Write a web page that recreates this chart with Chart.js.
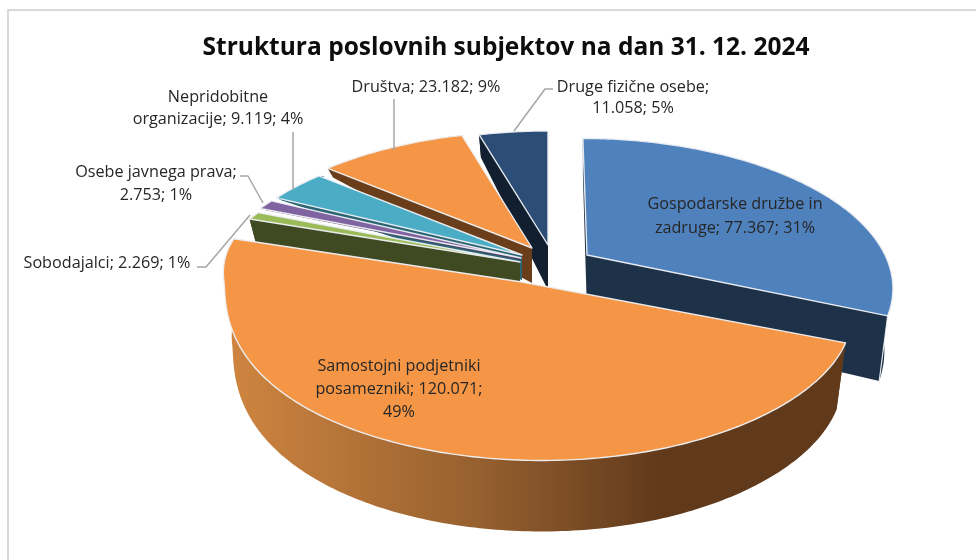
<!DOCTYPE html>
<html><head><meta charset="utf-8">
<style>html,body{margin:0;padding:0;background:#fff}canvas{display:block}</style>
<script src="https://cdn.jsdelivr.net/npm/chart.js@4"></script></head>
<body><canvas id="c" width="976" height="560"></canvas>
<script>
const categories=["Gospodarske družbe in zadruge","Samostojni podjetniki posamezniki","Sobodajalci","Osebe javnega prava","Nepridobitne organizacije","Društva","Druge fizične osebe"];
const values=[77367,120071,2269,2753,9119,23182,11058];
const faceColors=["#4F81BD","#F49646","#9BBB59","#8064A2","#4BACC6","#F49646","#2C4D75"];
const wallColors=["#1D3249","#6A3E1B","#3F4A22","#4C3C61","#2B6574","#6A3E1B","#111F30"];
// painter's order: back to front
const drawOrder=[6,5,4,3,2,0,1];
// per-slice projection: apex on the page, radii, shear, wall height at apex and its slope
const apex=[[587,255],[522,282],[520,262],[521,258],[522,255],[532,248],[548,245]];
const radX=[298,305,306,305,300,302,297];
const radY=[141,141,140,140,140,141,138];
const shear=[5,20,0,0,0,0,0];
const wallH=[[58,18],[64,7],[35,20],[2,0],[25,49],[35,40],[45,23]];
const persp=0.21, wallShrink=0.972;
const FONT='"Open Sans","Noto Sans",sans-serif';
const labelBlocks=[
 {x:735,lines:[["Gospodarske družbe in",204],["zadruge; 77.367; 31%",228]]},
 {x:399,lines:[["Samostojni podjetniki",366],["posamezniki; 120.071;",389],["49%",412]]},
 {x:107,lines:[["Sobodajalci; 2.269; 1%",263]]},
 {x:156,lines:[["Osebe javnega prava;",172],["2.753; 1%",195]]},
 {x:218,lines:[["Nepridobitne",97],["organizacije; 9.119; 4%",119]]},
 {x:426,lines:[["Društva; 23.182; 9%",87]]},
 {x:633,lines:[["Druge fizične osebe;",87],["11.058; 5%",108]]}
];
const leaders=[
 [[197,267],[206,267],[250,215]],
 [[240,176],[248,176],[263,203]],
 [[293,132],[293,190]],
 [[394,99],[394,150]],
 [[553,89],[545,89],[514,131]]
];
function project(i,theta){
  const u=Math.sin(theta),v=-Math.cos(theta),d=1-persp*v;
  if(i===1){ // the large front slice is stretched unevenly by the perspective
    const r=u>0?320+60*v:298+80*Math.pow(Math.max(v,0),1.5);
    return {dx:r*u+shear[i]*v,dy:radY[i]*v/d,v};
  }
  return {dx:(radX[i]*u+shear[i]*v)/d,dy:radY[i]*v/d,v};
}
function topPt(i,theta){const p=project(i,theta);return [apex[i][0]+p.dx,apex[i][1]+p.dy];}
function botPt(i,theta){const p=project(i,theta);const h=Math.max(0,wallH[i][0]+wallH[i][1]*p.v);
  return [apex[i][0]+p.dx*wallShrink,apex[i][1]+p.dy+h];}
function arcPts(i,a,b,fn){const n=Math.max(4,Math.ceil((b-a)/0.015)),o=[];
  for(let k=0;k<=n;k++)o.push(fn(i,a+(b-a)*k/n));return o;}
function poly(ctx,pts){ctx.beginPath();pts.forEach((p,j)=>j?ctx.lineTo(p[0],p[1]):ctx.moveTo(p[0],p[1]));ctx.closePath();}
const pie3d={id:'pie3d',
 beforeDraw(chart){const c=chart.ctx;c.save();c.fillStyle='#fff';c.fillRect(0,0,976,560);
   c.strokeStyle='#D9D9D9';c.lineWidth=2;c.strokeRect(8,10,1000,1000);c.restore();},
 beforeDatasetsDraw(chart){
  const ctx=chart.ctx,els=chart.getDatasetMeta(0).data;
  ctx.save();
  drawOrder.forEach(i=>{
    const e=els[i].getProps(['startAngle','endAngle']);
    const a=e.startAngle+Math.PI/2,b=e.endAngle+Math.PI/2;
    let wall=wallColors[i];
    if(i===1){const g=ctx.createLinearGradient(228,0,660,0);
      g.addColorStop(0,'#CF8540');g.addColorStop(0.58,'#96602F');g.addColorStop(1,'#613A1C');wall=g;}
    ctx.fillStyle=wall;ctx.strokeStyle=wall;ctx.lineWidth=0.5;
    const ap0=[apex[i][0],apex[i][1]],ap1=[apex[i][0],apex[i][1]+wallH[i][0]];
    // back slices only show the radial face that turns toward the viewer
    (i<2?[a,b]:[a]).forEach(t=>{poly(ctx,[ap0,topPt(i,t),botPt(i,t),ap1]);ctx.fill();});
    const rimT=arcPts(i,a,b,topPt),rimB=arcPts(i,a,b,botPt);
    poly(ctx,rimT.concat(rimB.reverse()));ctx.fill();
    if(i===0){const t=b;ctx.strokeStyle='rgba(255,255,255,.85)';ctx.lineWidth=1.2;
      const p=topPt(i,t),q=botPt(i,t);ctx.beginPath();ctx.moveTo(p[0],p[1]);ctx.lineTo(q[0],q[1]);ctx.stroke();}
    poly(ctx,[ap0].concat(arcPts(i,a,b,topPt)));
    ctx.fillStyle=faceColors[i];ctx.fill();
    ctx.strokeStyle='rgba(238,240,244,.95)';ctx.lineWidth=1.4;ctx.lineJoin='round';ctx.stroke();
  });
  ctx.strokeStyle='#A6A6A6';ctx.lineWidth=1.5;
  leaders.forEach(l=>{ctx.beginPath();l.forEach((p,j)=>j?ctx.lineTo(p[0],p[1]):ctx.moveTo(p[0],p[1]));ctx.stroke();});
  ctx.fillStyle='#262626';ctx.font='16.2px '+FONT;ctx.textAlign='center';ctx.textBaseline='middle';
  labelBlocks.forEach(l=>l.lines.forEach(s=>ctx.fillText(s[0],l.x,s[1])));
  ctx.restore();
  return false;
 }};
new Chart(document.getElementById('c'),{
  type:'pie',
  data:{labels:categories,datasets:[{data:values,backgroundColor:faceColors,borderWidth:0}]},
  plugins:[pie3d],
  options:{responsive:false,animation:false,rotation:0,
    layout:{padding:{left:36,top:0}},
    plugins:{legend:{display:false},tooltip:{enabled:false},
      title:{display:true,text:"Struktura poslovnih subjektov na dan 31. 12. 2024",color:'#0D0D0D',
        font:{family:FONT,size:24.5,weight:'bold'},padding:{top:33,bottom:10}}}}
});
</script></body></html>
